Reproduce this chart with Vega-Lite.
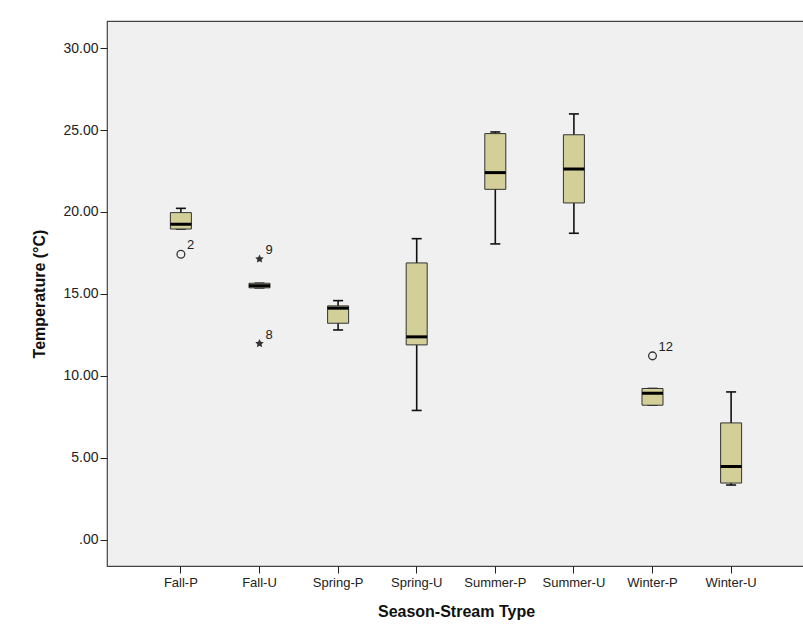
{
  "$schema": "https://vega.github.io/schema/vega-lite/v6.json",
  "autosize": "none",
  "width": 698,
  "height": 545,
  "padding": {"left": 107, "top": 21, "right": 0, "bottom": 73},
  "background": "white",
  "config": {
    "font": "Liberation Sans",
    "view": {"fill": "#f0f0f0", "stroke": "#444", "strokeWidth": 1.2},
    "axis": {"grid": false, "domain": false, "tickColor": "#222", "tickSize": 7, "labelColor": "#222", "labelFontSize": 13, "titleFontSize": 16, "titleFontWeight": "bold", "titleColor": "#111"},
    "axisY": {"labelFontSize": 14}
  },
  "datasets": {
    "boxes": [
      {"group": "Fall-P", "lower": 18.96, "q1": 18.96, "median": 19.25, "q3": 19.96, "upper": 20.22},
      {"group": "Fall-U", "lower": 15.37, "q1": 15.37, "median": 15.5, "q3": 15.65, "upper": 15.65},
      {"group": "Spring-P", "lower": 12.8, "q1": 13.21, "median": 14.13, "q3": 14.27, "upper": 14.59},
      {"group": "Spring-U", "lower": 7.89, "q1": 11.89, "median": 12.38, "q3": 16.89, "upper": 18.37},
      {"group": "Summer-P", "lower": 18.05, "q1": 21.38, "median": 22.4, "q3": 24.78, "upper": 24.88},
      {"group": "Summer-U", "lower": 18.7, "q1": 20.55, "median": 22.62, "q3": 24.71, "upper": 25.98},
      {"group": "Winter-P", "lower": 8.21, "q1": 8.21, "median": 8.94, "q3": 9.23, "upper": 9.23},
      {"group": "Winter-U", "lower": 3.34, "q1": 3.46, "median": 4.47, "q3": 7.13, "upper": 9.02}
    ],
    "outliers": [
      {"group": "Fall-P", "value": 17.42, "label": "2", "kind": "outlier"},
      {"group": "Fall-U", "value": 17.13, "label": "9", "kind": "extreme"},
      {"group": "Fall-U", "value": 11.97, "label": "8", "kind": "extreme"},
      {"group": "Winter-P", "value": 11.22, "label": "12", "kind": "outlier"}
    ]
  },
  "encoding": {
    "x": {
      "field": "group", "type": "nominal", "sort": null,
      "scale": {"type": "band", "paddingInner": 0, "paddingOuter": 0.44,
        "domain": ["Fall-P", "Fall-U", "Spring-P", "Spring-U", "Summer-P", "Summer-U", "Winter-P", "Winter-U"]},
      "axis": {"title": "Season-Stream Type", "labelAngle": 0, "labelPadding": 3, "titlePadding": 14}
    }
  },
  "layer": [
    {
      "data": {"name": "boxes"},
      "mark": {"type": "rule", "color": "#111", "strokeWidth": 1.6, "opacity": 1},
      "encoding": {
        "y": {"field": "lower", "type": "quantitative",
          "scale": {"domain": [-1.6, 31.65], "nice": false, "zero": false},
          "axis": {"title": "Temperature (°C)", "values": [0, 5, 10, 15, 20, 25, 30], "labelExpr": "datum.value == 0 ? '.00' : format(datum.value, '.2f')", "labelFontSize": 14, "labelPadding": 2, "titlePadding": 15}},
        "y2": {"field": "upper"}
      }
    },
    {
      "data": {"name": "boxes"},
      "mark": {"type": "tick", "color": "#111", "size": 10, "thickness": 1.6, "opacity": 1},
      "encoding": {"y": {"field": "upper", "type": "quantitative"}}
    },
    {
      "data": {"name": "boxes"},
      "mark": {"type": "tick", "color": "#111", "size": 10, "thickness": 1.6, "opacity": 1},
      "encoding": {"y": {"field": "lower", "type": "quantitative"}}
    },
    {
      "data": {"name": "boxes"},
      "mark": {"type": "bar", "size": 21, "fill": "#d3cf98", "stroke": "#333", "strokeWidth": 1, "opacity": 1},
      "encoding": {"y": {"field": "q1", "type": "quantitative"}, "y2": {"field": "q3"}}
    },
    {
      "data": {"name": "boxes"},
      "mark": {"type": "tick", "color": "#000", "size": 21, "thickness": 3, "opacity": 1},
      "encoding": {"y": {"field": "median", "type": "quantitative"}}
    },
    {
      "data": {"name": "outliers"},
      "transform": [{"filter": "datum.kind == 'outlier'"}],
      "mark": {"type": "point", "shape": "circle", "filled": false, "size": 60, "stroke": "#333", "strokeWidth": 1.3, "opacity": 1},
      "encoding": {"y": {"field": "value", "type": "quantitative"}}
    },
    {
      "data": {"name": "outliers"},
      "transform": [{"filter": "datum.kind == 'extreme'"}],
      "mark": {"type": "point", "shape": "M0,-1L0.29,-0.4L0.95,-0.31L0.47,0.15L0.59,0.81L0,0.5L-0.59,0.81L-0.47,0.15L-0.95,-0.31L-0.29,-0.4Z", "filled": true, "size": 80, "color": "#333", "opacity": 1},
      "encoding": {"y": {"field": "value", "type": "quantitative"}}
    },
    {
      "data": {"name": "outliers"},
      "mark": {"type": "text", "align": "left", "baseline": "middle", "dx": 6, "dy": -9, "fontSize": 13, "color": "#222"},
      "encoding": {"y": {"field": "value", "type": "quantitative"}, "text": {"field": "label"}}
    }
  ]
}
